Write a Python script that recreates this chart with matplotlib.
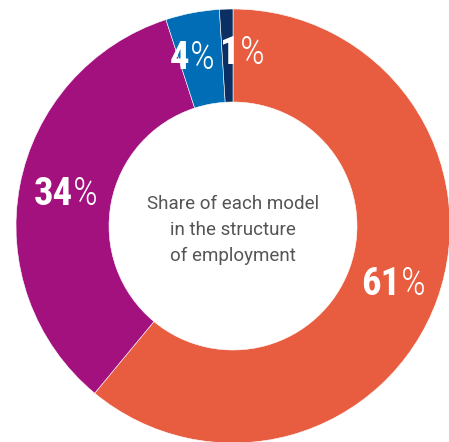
import numpy as np
import matplotlib
matplotlib.use("Agg")
import matplotlib.pyplot as plt
from matplotlib.offsetbox import TextArea, HPacker, AnnotationBbox

# data, clockwise from the top
shares = [61, 34, 4, 1]
colors = ["#E85C3F", "#A3117E", "#006DB6", "#0B2F63"]
center_text = "Share of each model\nin the structure\nof employment"

# geometry in pixel units of the 449x442 picture
W, H = 449, 442
cx, cy = 233, H - 226
r_out, r_in = 217, 124

fig = plt.figure(figsize=(W / 100, H / 100), dpi=100)
ax = fig.add_axes([0, 0, 1, 1])

wedges, _ = ax.pie(shares, colors=colors, startangle=90, counterclock=False,
                   center=(cx, cy), radius=r_out,
                   wedgeprops=dict(width=r_out - r_in, edgecolor="white", linewidth=0.4))

ax.set_xlim(0, W)
ax.set_ylim(0, H)
ax.set_aspect("equal")
ax.axis("off")

label_font = ["Roboto Condensed", "DejaVu Sans"]
r_mid = (r_out + r_in) / 2
offsets = {4: (-9, 0), 1: (15, 2)}  # nudges so the two small labels sit side by side
for w, v in zip(wedges, shares):
    ang = np.deg2rad((w.theta1 + w.theta2) / 2)
    x = cx + r_mid * np.cos(ang)
    y = cy + r_mid * np.sin(ang)
    dx, dy = offsets.get(v, (0, 0))
    num = TextArea(str(v), textprops=dict(color="white", fontsize=28, fontweight="bold",
                                          family=label_font))
    pct = TextArea("%", textprops=dict(color="white", fontsize=28, fontweight=300,
                                       family=label_font))
    box = HPacker(children=[num, pct], sep=0, pad=0, align="baseline")
    ab = AnnotationBbox(box, (x + dx, y + dy), frameon=False, box_alignment=(0.5, 0.5),
                        pad=0)
    ax.add_artist(ab)

ax.text(cx, cy - 4, center_text, ha="center", va="center", fontsize=13.5,
        color="#555555", family=["Roboto", "DejaVu Sans"], linespacing=1.6)

fig.savefig("out.png", dpi=100)
